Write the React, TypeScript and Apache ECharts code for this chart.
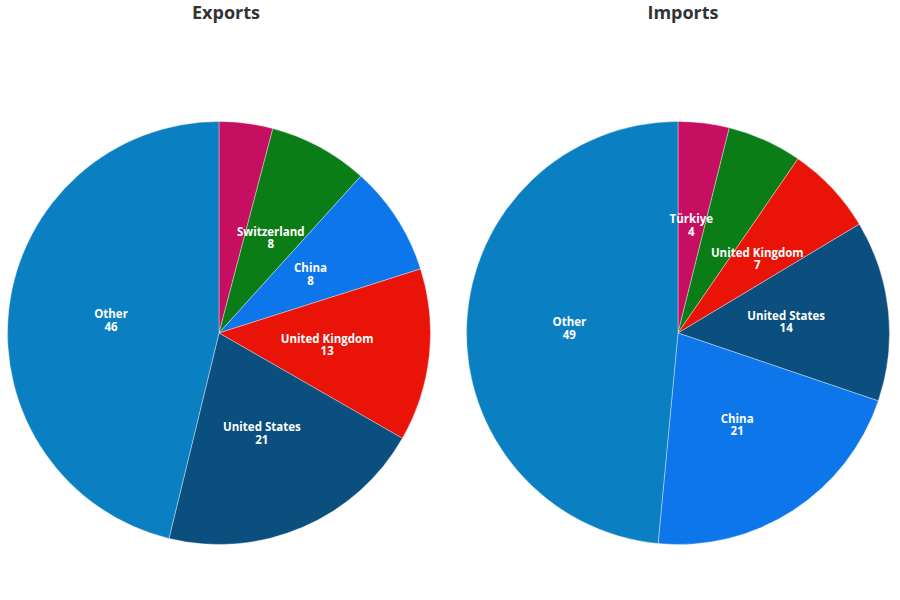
import React, { useEffect, useRef } from 'react';
import * as echarts from 'echarts';

const exportCountries = ['Türkiye', 'Switzerland', 'China', 'United Kingdom', 'United States', 'Other'];
const exportValues = [4.1, 7.6, 8.4, 13.2, 20.5, 46.2];
const importCountries = ['Türkiye', 'Switzerland', 'United Kingdom', 'United States', 'China', 'Other'];
const importValues = [3.9, 5.7, 6.8, 13.8, 21.3, 48.5];
const exportUnlabelled = ['Türkiye'];
const importUnlabelled = ['Switzerland'];
const titles = ['Exports', 'Imports'];

const countryColors: Record<string, string> = {
  'Türkiye': '#c70f62',
  'Switzerland': '#0b7d16',
  'China': '#0d76ea',
  'United Kingdom': '#ea1307',
  'United States': '#0a4f7e',
  'Other': '#0a7fc1',
};

function buildData(names: string[], values: number[], hidden: string[]) {
  return names.map((n, i) => ({
    name: n,
    value: values[i],
    itemStyle: { color: countryColors[n] },
    label: { show: !hidden.includes(n) },
  }));
}

export default function App() {
  const ref = useRef<HTMLDivElement>(null);
  useEffect(() => {
    if (!ref.current) return;
    const chart = echarts.init(ref.current, undefined, { renderer: 'svg' });
    const label = {
      show: true,
      position: 'inside',
      color: '#ffffff',
      fontFamily: 'Open Sans',
      fontWeight: 'bold',
      fontSize: 11.5,
      lineHeight: 12.5,
      formatter: (p: any) => `${p.name}\n${Math.round(p.value)}`,
    };
    const common = {
      type: 'pie',
      radius: 211.5,
      startAngle: 90,
      clockwise: true,
      label,
      labelLine: { show: false },
      itemStyle: { borderColor: 'rgba(255,255,255,0.6)', borderWidth: 0.6 },
      emphasis: { disabled: true },
    };
    const titleStyle = { fontFamily: 'Open Sans', fontWeight: 'bold', fontSize: 18, color: '#333333' };
    chart.setOption({
      animation: false,
      title: [
        { text: titles[0], left: 221, textAlign: 'center', top: -2, textStyle: titleStyle },
        { text: titles[1], left: 678, textAlign: 'center', top: -2, textStyle: titleStyle },
      ],
      series: [
        { ...common, name: titles[0], center: [219, 333], data: buildData(exportCountries, exportValues, exportUnlabelled) },
        { ...common, name: titles[1], center: [678, 333], data: buildData(importCountries, importValues, importUnlabelled) },
      ],
    });
    return () => chart.dispose();
  }, []);
  return (
    <div
      ref={ref}
      style={{ position: 'fixed', left: 0, top: 0, width: 900, height: 600, background: '#ffffff' }}
    />
  );
}
